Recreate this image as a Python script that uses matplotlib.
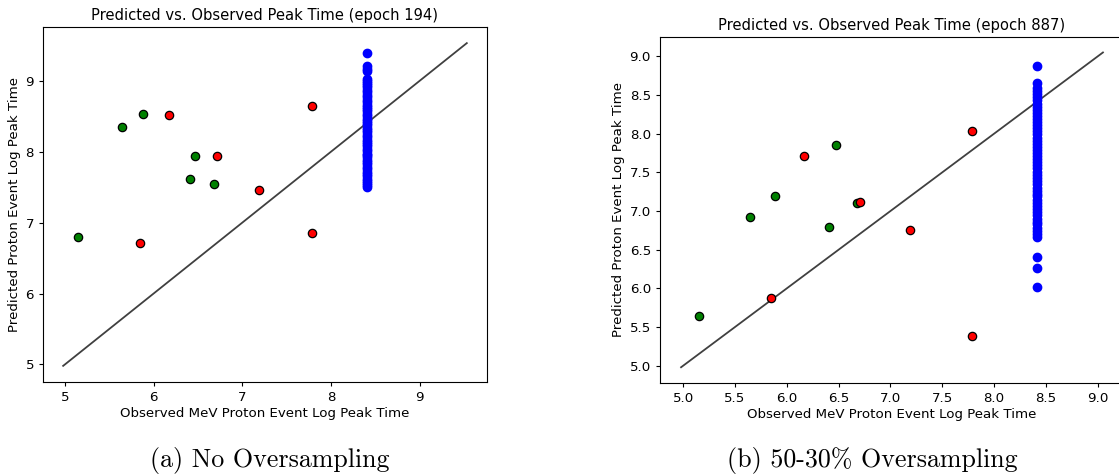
import numpy as np
import matplotlib
matplotlib.use('Agg')
import matplotlib.pyplot as plt
from matplotlib.ticker import MultipleLocator

# observed log peak times (same events in both runs)
obs_green = [5.15, 5.645, 5.885, 6.47, 6.405, 6.675]
obs_red = [5.85, 6.17, 6.71, 7.185, 7.79, 7.785]
obs_blue = 8.41

# epoch 194, no oversampling
pred_green_a = [6.79, 8.35, 8.535, 7.94, 7.61, 7.54]
pred_red_a = [6.71, 8.51, 7.94, 7.455, 8.64, 6.855]
pred_blue_a = [7.50, 7.53, 7.56, 7.58, 7.62, 7.66, 7.69, 7.71, 7.75, 7.79,
               7.82, 7.85, 7.88, 7.92, 7.95, 7.97, 8.01, 8.04, 8.08, 8.11,
               8.13, 8.17, 8.21, 8.24, 8.27, 8.30, 8.33, 8.37, 8.40, 8.43,
               8.46, 8.50, 8.53, 8.57, 8.60, 8.63, 8.66, 8.70, 8.73, 8.77,
               8.80, 8.84, 8.87, 8.91, 8.94, 8.97, 9.00, 9.02, 9.14, 9.17,
               9.21, 9.39]
diag_a = [4.98, 9.53]

# epoch 887, 50-30% oversampling
pred_green_b = [5.64, 6.92, 7.19, 7.85, 6.79, 7.10]
pred_red_b = [5.87, 7.71, 7.115, 6.755, 8.03, 5.385]
pred_blue_b = [6.02, 6.26, 6.41, 6.67, 6.70, 6.74, 6.78, 6.83, 6.86, 6.90,
               6.95, 6.99, 7.03, 7.06, 7.10, 7.14, 7.19, 7.22, 7.26, 7.30,
               7.35, 7.39, 7.43, 7.47, 7.51, 7.55, 7.59, 7.63, 7.67, 7.71,
               7.75, 7.79, 7.83, 7.87, 7.91, 7.95, 7.99, 8.03, 8.07, 8.11,
               8.15, 8.19, 8.23, 8.27, 8.31, 8.35, 8.39, 8.43, 8.47, 8.51,
               8.55, 8.59, 8.66, 8.87]
diag_b = [4.98, 9.05]

fig = plt.figure(figsize=(11.19, 4.75), dpi=100)
ax1 = fig.add_axes([0.0384, 0.1958, 0.3968, 0.7474])
ax2 = fig.add_axes([0.5898, 0.1937, 0.4147, 0.7290])

panels = [
    (ax1, pred_green_a, pred_red_a, pred_blue_a, diag_a, 194, 1.0),
    (ax2, pred_green_b, pred_red_b, pred_blue_b, diag_b, 887, 0.5),
]

for ax, pg, pr, pb, diag, epoch, step in panels:
    ax.plot(diag, diag, color='k', alpha=0.75, lw=1.3)
    ax.scatter([obs_blue] * len(pb), pb, s=36, color='blue', zorder=3)
    ax.scatter(obs_green, pg, s=36, color='green', edgecolors='k',
               linewidths=0.9, zorder=3)
    ax.scatter(obs_red, pr, s=36, color='red', edgecolors='k',
               linewidths=0.9, zorder=3)
    ax.xaxis.set_major_locator(MultipleLocator(step))
    ax.yaxis.set_major_locator(MultipleLocator(step))
    ax.tick_params(labelsize=9.6, length=3)
    ax.set_xlabel('Observed MeV Proton Event Log Peak Time', fontsize=9.6,
                  labelpad=2)
    ax.set_ylabel('Predicted Proton Event Log Peak Time', fontsize=9.6,
                  labelpad=3)
    ax.set_title('Predicted vs. Observed Peak Time (epoch %d)' % epoch,
                 fontsize=10.6, pad=5)

ax1.yaxis.set_major_formatter(plt.FormatStrFormatter('%d'))
ax1.xaxis.set_major_formatter(plt.FormatStrFormatter('%d'))

# subfigure captions
fig.text(270 / 1119, 1 - 460 / 475, '(a) No Oversampling', family='cmr10',
         fontsize=18.7, ha='center', va='center')
fig.text(872 / 1119, 1 - 460 / 475, '(b) 50-30% Oversampling', family='cmr10',
         fontsize=18.7, ha='center', va='center')

fig.savefig('out.png', dpi=100)
